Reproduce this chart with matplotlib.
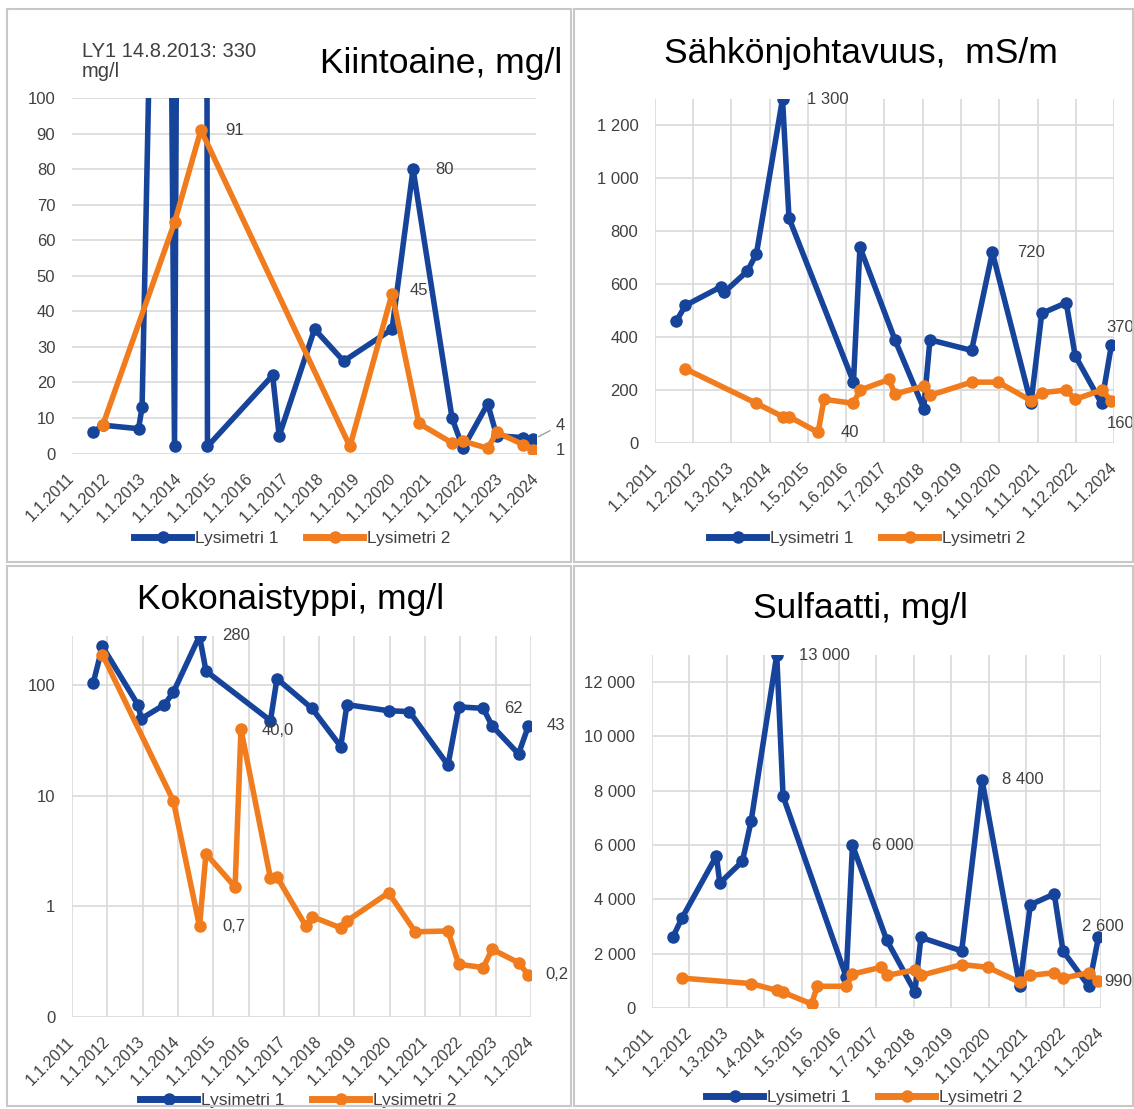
import numpy as np
import pandas as pd
import matplotlib
matplotlib.use('Agg')
import matplotlib.pyplot as plt
import matplotlib.dates as mdates
from matplotlib.lines import Line2D
from matplotlib.patches import Rectangle

plt.rcParams['font.family'] = ['Liberation Sans', 'DejaVu Sans']

W, H = 1134, 1109
nan = np.nan

# sampling dates (shared by all four charts)
dates = pd.to_datetime([
    '2011-08-08', '2011-11-12', '2012-11-12', '2012-12-18', '2013-08-14',
    '2013-11-15', '2014-08-12', '2014-10-18', '2015-08-15', '2015-10-15',
    '2016-08-15', '2016-10-21', '2017-08-18', '2017-10-18', '2018-08-12',
    '2018-10-15', '2019-12-20', '2020-07-22', '2020-09-20', '2021-08-25',
    '2021-12-15', '2022-08-25', '2022-11-25', '2023-08-25', '2023-12-05'])

series_names = ['Lysimetri 1', 'Lysimetri 2']

# Kiintoaine, mg/l
kiinto_ly1 = [6, 8, 7, 13, 330, 2, 1500, 2, nan, nan, 22, 5, nan, 35, 26, nan,
              35, 80, nan, 10, 1.5, 14, 5, 4.5, 4]
kiinto_ly2 = [nan, 8, nan, nan, nan, 65, 91, nan, nan, nan, nan, nan, nan, nan, nan, 2,
              45, nan, 8.5, 3, 3.5, 1.5, 6, 2.5, 1]

# Sähkönjohtavuus, mS/m
sahko_ly1 = [460, 520, 590, 570, 650, 715, 1300, 850, nan, nan, 230, 740, nan, 390, 130, 390,
             350, 720, nan, 150, 490, 530, 330, 150, 370]
sahko_ly2 = [nan, 280, nan, nan, nan, 150, 100, 100, 40, 165, 150, 200, 240, 185, 215, 180,
             230, nan, 230, 160, 190, 200, 165, 200, 160]

# Kokonaistyppi, mg/l
typpi_ly1 = [105, 225, 67, 50, 67, 87, 280, 135, nan, nan, 48, 115, nan, 62, 28, 67,
             59, 58, nan, 19, 64, 62, 43, 24, 43]
typpi_ly2 = [nan, 190, nan, nan, nan, 9, 0.66, 3, 1.5, 40, 1.8, 1.85, 0.66, 0.81, 0.64, 0.74,
             1.33, nan, 0.59, 0.6, 0.3, 0.28, 0.41, 0.31, 0.24]

# Sulfaatti, mg/l
sulf_ly1 = [2600, 3300, 5600, 4600, 5400, 6900, 13000, 7800, nan, nan, 1150, 6000, nan, 2500, 600, 2600,
            2100, 8400, nan, 800, 3800, 4200, 2100, 800, 2600]
sulf_ly2 = [nan, 1100, nan, nan, nan, 900, 650, 580, 150, 800, 800, 1250, 1500, 1200, 1400, 1200,
            1600, nan, 1500, 950, 1200, 1300, 1100, 1300, 990]

BLUE = '#17449b'
ORANGE = '#f07c1e'
GRID = '#d9d9d9'
TXT = '#404040'

x0 = pd.Timestamp('2011-01-01')
x1 = pd.Timestamp('2024-01-01')
ticks_year = pd.date_range(x0, x1, freq='12MS')
ticks_13 = pd.date_range(x0, x1, freq='13MS')


def fx(x):
    return x / W


def fy(y):
    return 1 - y / H


def add_ax(fig, l, t, r, b):
    return fig.add_axes([fx(l), fy(b), (r - l) / W, (b - t) / H])


def plot_series(ax, vals, color):
    v = np.array(vals, dtype=float)
    m = ~np.isnan(v)
    ax.plot(dates[m], v[m], color=color, lw=4, marker='o', ms=8,
            solid_joinstyle='round', zorder=3)


def label(ax, vals, i, text, dx, dy, ha='left'):
    ax.annotate(text, (dates[i], vals[i]), xytext=(dx, dy), textcoords='offset pixels',
                ha=ha, va='center', fontsize=12, color=TXT, annotation_clip=False)


def fmt(v):
    return f'{v:,.0f}'.replace(',', ' ')


def setup(ax, ticks, vgrid):
    ax.set_xlim(x0, x1)
    ax.set_xticks(mdates.date2num(ticks.to_pydatetime()))
    ax.set_xticklabels([f'{d.day}.{d.month}.{d.year}' for d in ticks],
                       rotation=45, ha='right', va='center', rotation_mode='anchor')
    for s in ax.spines.values():
        s.set_visible(False)
    ax.tick_params(length=0, colors=TXT)
    ax.tick_params(axis='x', labelsize=11.5, pad=16)
    ax.tick_params(axis='y', labelsize=12, pad=12)
    ax.minorticks_off()
    ax.grid(axis='both' if vgrid else 'y', color=GRID, lw=1.2)
    ax.set_axisbelow(True)


def legend(ax, cx, cy):
    hs = [Line2D([], [], color=BLUE, lw=5, marker='o', ms=8),
          Line2D([], [], color=ORANGE, lw=5, marker='o', ms=8)]
    leg = ax.legend(hs, series_names, loc='center', bbox_to_anchor=(fx(cx), fy(cy)),
                    bbox_transform=ax.figure.transFigure, ncol=2, frameon=False,
                    fontsize=12.5, handlelength=3.3, handletextpad=0.2, columnspacing=1.6)
    for t in leg.get_texts():
        t.set_color(TXT)


fig = plt.figure(figsize=(W / 100, H / 100), dpi=100)

# panel frames
for (l, t, r, b) in [(7, 9, 571, 562), (574, 9, 1133, 562), (7, 566, 571, 1106), (574, 566, 1133, 1106)]:
    fig.add_artist(Rectangle((fx(l), fy(b)), (r - l) / W, (b - t) / H, transform=fig.transFigure,
                             fill=False, edgecolor='#c8c8c8', lw=1.5))

# --- Kiintoaine
ax = add_ax(fig, 72, 98, 536, 453.6)
plot_series(ax, kiinto_ly1, BLUE)
plot_series(ax, kiinto_ly2, ORANGE)
setup(ax, ticks_year, False)
ax.set_ylim(0, 100)
ax.set_yticks(np.arange(0, 101, 10))
label(ax, kiinto_ly2, 6, '91', 24, 0)
label(ax, kiinto_ly1, 17, '80', 22, 0)
label(ax, kiinto_ly2, 16, '45', 18, 3)
label(ax, kiinto_ly2, 24, '1', 22, 0)
ax.annotate('4', (dates[24], kiinto_ly1[24]), xytext=(22, 14), textcoords='offset pixels',
            ha='left', va='center', fontsize=12, color=TXT, annotation_clip=False,
            arrowprops=dict(arrowstyle='-', color='#a0a0a0', lw=1, shrinkA=2, shrinkB=4))
legend(ax, 292, 538)
fig.text(fx(562), fy(73), 'Kiintoaine, mg/l', ha='right', va='baseline', fontsize=25.5)
fig.text(fx(82), fy(42), 'LY1 14.8.2013: 330\nmg/l', ha='left', va='top', fontsize=14.5,
         color=TXT, linespacing=1.05)

# --- Sähkönjohtavuus
ax = add_ax(fig, 655, 99, 1114, 443)
plot_series(ax, sahko_ly1, BLUE)
plot_series(ax, sahko_ly2, ORANGE)
setup(ax, ticks_13, True)
ax.set_ylim(0, 1300)
yt = np.arange(0, 1201, 200)
ax.set_yticks(yt)
ax.set_yticklabels([fmt(v) for v in yt])
label(ax, sahko_ly1, 6, '1 300', 24, 0)
label(ax, sahko_ly1, 17, '720', 25, 0)
label(ax, sahko_ly1, 24, '370', -5, 18)
label(ax, sahko_ly2, 8, '40', 23, 0)
label(ax, sahko_ly2, 24, '160', -5, -23)
legend(ax, 867, 538)
fig.text(fx(861), fy(62.5), 'Sähkönjohtavuus,  mS/m', ha='center', va='baseline', fontsize=25.5)

# --- Kokonaistyppi (log scale)
ax = add_ax(fig, 72, 636, 531, 1017)
plot_series(ax, typpi_ly1, BLUE)
plot_series(ax, typpi_ly2, ORANGE)
ax.set_yscale('log')
setup(ax, ticks_year, True)
ax.set_ylim(0.1, 280)
ax.set_yticks([0.1, 1, 10, 100])
ax.set_yticklabels(['0', '1', '10', '100'])
ax.minorticks_off()
label(ax, typpi_ly1, 6, '280', 23, 0)
label(ax, typpi_ly2, 9, '40,0', 21, -1)
label(ax, typpi_ly1, 21, '62', 21, 0)
label(ax, typpi_ly1, 24, '43', 18, 0)
label(ax, typpi_ly2, 6, '0,7', 23, 0)
label(ax, typpi_ly2, 24, '0,2', 17, 0)
legend(ax, 298, 1100)
fig.text(fx(291), fy(609), 'Kokonaistyppi, mg/l', ha='center', va='baseline', fontsize=25.5)

# --- Sulfaatti
ax = add_ax(fig, 652, 655, 1101, 1008)
plot_series(ax, sulf_ly1, BLUE)
plot_series(ax, sulf_ly2, ORANGE)
setup(ax, ticks_13, True)
ax.set_ylim(0, 13000)
yt = np.arange(0, 12001, 2000)
ax.set_yticks(yt)
ax.set_yticklabels([fmt(v) for v in yt])
label(ax, sulf_ly1, 6, '13 000', 22, 0)
label(ax, sulf_ly1, 11, '6 000', 20, 0)
label(ax, sulf_ly1, 17, '8 400', 20, 0)
label(ax, sulf_ly1, 24, '2 600', -16, 11)
label(ax, sulf_ly2, 24, '990', 6, 0)
legend(ax, 864, 1097)
fig.text(fx(860), fy(618), 'Sulfaatti, mg/l', ha='center', va='baseline', fontsize=25.5)

fig.savefig('out.png', dpi=100)
